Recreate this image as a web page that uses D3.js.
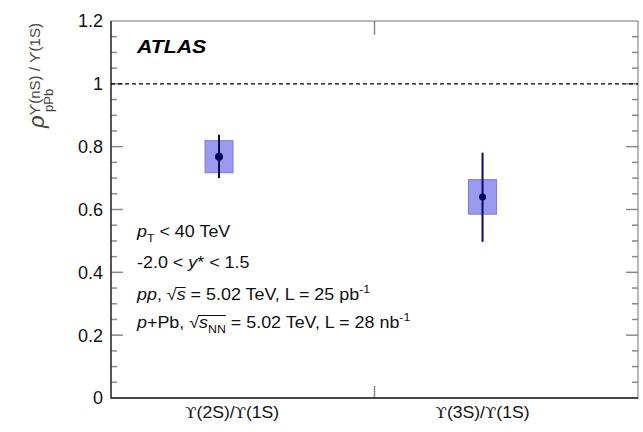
<!DOCTYPE html>
<html>
<head>
<meta charset="utf-8">
<script src="https://cdn.jsdelivr.net/npm/d3@7"></script>
<style>
  body { margin: 0; background: #fff; }
  svg { font-family: "Liberation Sans", Arial, sans-serif; }
</style>
</head>
<body>
<div id="chart"></div>
<script>
// Double ratio values
var categories = ['2S', '3S'];
var pointX = [0.41, 1.41];      // position inside the [0,2] category range
var labelX = [0.46, 1.41];
var ratio = [0.768, 0.640];
var statUp = [0.070, 0.141];
var statDown = [0.068, 0.143];
var systErr = [0.051, 0.055];
var yTicks = [0, 0.2, 0.4, 0.6, 0.8, 1, 1.2];
var yTickLabels = ['0', '0.2', '0.4', '0.6', '0.8', '1', '1.2'];
var infoLines = [
  [['p', 'i'], ['T', 'sub'], [' < 40 TeV', '']],
  [['-2.0 < ', ''], ['y', 'i'], ['* < 1.5', '']],
  [['pp', 'i'], [', \u221A', ''], ['s', 'root'], [' = 5.02 TeV, L = 25 pb', ''], ['-1', 'sup']],
  [['p', 'i'], ['+Pb, \u221A', ''], ['s', 'root'], ['NN', 'rootsub'], [' = 5.02 TeV, L = 28 nb', ''], ['-1', 'sup']]
];

var width = 643, height = 432;
var margin = {left: 111, right: 5, top: 21, bottom: 34};

var svg = d3.select('#chart').append('svg')
    .attr('width', width)
    .attr('height', height);

var x = d3.scaleLinear().domain([0, 2])
    .range([margin.left, width - margin.right]);
var y = d3.scaleLinear().domain([0, 1.2])
    .range([height - margin.bottom, margin.top]);

var x0 = x.range()[0], x1 = x.range()[1];
var y0 = y.range()[0], y1 = y.range()[1];

// minor + major ticks on both sides, drawn inward
var minor = d3.range(0, 1.2001, 0.05);
var tickG = svg.append('g').attr('stroke', '#8a8a8a').attr('stroke-width', 1.5);
minor.forEach(function(v) {
  var major = yTicks.some(function(t) { return Math.abs(t - v) < 1e-6; });
  var len = major ? 12 : 6;
  if (v === 0 || Math.abs(v - 1.2) < 1e-6) return;
  tickG.append('line').attr('x1', x0).attr('x2', x0 + len)
      .attr('y1', y(v)).attr('y2', y(v));
  tickG.append('line').attr('x1', x1 - len).attr('x2', x1)
      .attr('y1', y(v)).attr('y2', y(v));
});
// category divider ticks top and bottom
tickG.append('line').attr('x1', x(1)).attr('x2', x(1)).attr('y1', y1).attr('y2', y1 + 14);
tickG.append('line').attr('x1', x(1)).attr('x2', x(1)).attr('y1', y0).attr('y2', y0 - 12);

// frame
svg.append('rect')
    .attr('x', x0).attr('y', y1)
    .attr('width', x1 - x0).attr('height', y0 - y1)
    .attr('fill', 'none').attr('stroke', '#777').attr('stroke-width', 1);
svg.append('path')
    .attr('d', 'M' + x0 + ',' + y1 + 'V' + y0 + 'H' + x1)
    .attr('fill', 'none').attr('stroke', '#222').attr('stroke-width', 1.3);

// y tick labels
svg.selectAll('.ylab').data(yTicks)
  .enter().append('text')
    .attr('class', 'ylab')
    .attr('x', x0 - 8)
    .attr('y', function(d) { return y(d); })
    .attr('dy', '0.36em')
    .attr('text-anchor', 'end')
    .attr('font-size', 18)
    .attr('fill', '#111')
    .text(function(d, i) { return yTickLabels[i]; });

// unity line
svg.append('line')
    .attr('x1', x0).attr('x2', x1)
    .attr('y1', y(1)).attr('y2', y(1))
    .attr('stroke', '#000').attr('stroke-width', 1.3)
    .attr('stroke-dasharray', '4,3');

// systematic boxes
var boxHalf = 14;
svg.selectAll('.syst').data(categories)
  .enter().append('rect')
    .attr('class', 'syst')
    .attr('x', function(d, i) { return x(pointX[i]) - boxHalf; })
    .attr('y', function(d, i) { return y(ratio[i] + systErr[i]); })
    .attr('width', boxHalf * 2)
    .attr('height', function(d, i) { return y(ratio[i] - systErr[i]) - y(ratio[i] + systErr[i]); })
    .attr('fill', '#9a9af0')
    .attr('stroke', '#7a7ae0')
    .attr('stroke-width', 1);

// stat error bars
svg.selectAll('.stat').data(categories)
  .enter().append('line')
    .attr('class', 'stat')
    .attr('x1', function(d, i) { return x(pointX[i]); })
    .attr('x2', function(d, i) { return x(pointX[i]); })
    .attr('y1', function(d, i) { return y(ratio[i] + statUp[i]); })
    .attr('y2', function(d, i) { return y(ratio[i] - statDown[i]); })
    .attr('stroke', function(d, i) { return i === 0 ? '#0a0a3a' : '#0a0a6e'; })
    .attr('stroke-width', 2);

svg.selectAll('.pt').data(categories)
  .enter().append('circle')
    .attr('class', 'pt')
    .attr('cx', function(d, i) { return x(pointX[i]); })
    .attr('cy', function(d, i) { return y(ratio[i]); })
    .attr('r', function(d, i) { return i === 0 ? 4 : 3.5; })
    .attr('fill', '#06065a');

// x category labels (slightly wide, like the original render)
var xl = svg.selectAll('.xlab').data(categories)
  .enter().append('text')
    .attr('class', 'xlab')
    .attr('transform', function(d, i) {
      return 'translate(' + x(labelX[i]) + ',418) scale(1.1,1)';
    })
    .attr('text-anchor', 'middle')
    .attr('font-size', 16)
    .attr('fill', '#111');
xl.each(function(d) {
  var t = d3.select(this);
  t.append('tspan').attr('font-family', 'DejaVu Serif, serif').attr('font-size', 15).text('\u03D2');
  t.append('tspan').text('(' + d + ')/');
  t.append('tspan').attr('font-family', 'DejaVu Serif, serif').attr('font-size', 15).text('\u03D2');
  t.append('tspan').text('(1S)');
});

// ATLAS label
svg.append('text')
    .attr('transform', 'translate(137,53) scale(1.12,1)')
    .attr('font-size', 19)
    .attr('font-weight', 'bold')
    .attr('font-style', 'italic')
    .text('ATLAS');

// info text block
var infoY = [237, 268, 300, 328];
infoLines.forEach(function(parts, li) {
  var g = svg.append('g')
      .attr('transform', 'translate(137,' + infoY[li] + ') scale(1.12,1)');
  var t = g.append('text')
      .attr('font-size', 16)
      .attr('fill', '#111');
  var shift = 0, idx = 0, rootStart = -1, rootEnd = -1;
  parts.forEach(function(p) {
    var s = t.append('tspan').text(p[0]);
    var want = 0;
    if (p[1] === 'i' || p[1] === 'root') s.attr('font-style', 'italic');
    if (p[1] === 'sub' || p[1] === 'rootsub') { s.attr('font-size', 11); want = 5; }
    if (p[1] === 'sup') { s.attr('font-size', 11); want = -7; }
    if (want !== shift) { s.attr('dy', want - shift); shift = want; }
    if (p[1] === 'root' || p[1] === 'rootsub') {
      if (rootStart < 0) rootStart = idx;
      rootEnd = idx + p[0].length - 1;
    }
    idx += p[0].length;
  });
  // bar of the square root over s (and its subscript)
  if (rootStart >= 0) {
    var node = t.node();
    var a = node.getExtentOfChar(rootStart);
    var b = node.getExtentOfChar(rootEnd);
    var rad = node.getExtentOfChar(rootStart - 1);
    g.append('line')
        .attr('x1', rad.x + rad.width - 1)
        .attr('x2', b.x + b.width)
        .attr('y1', -12.5).attr('y2', -12.5)
        .attr('stroke', '#111').attr('stroke-width', 1);
  }
});

// y axis title, rotated
var yt = svg.append('text')
    .attr('transform', 'translate(44,128) rotate(-90)')
    .attr('fill', '#444');
yt.append('tspan').attr('font-size', 22).attr('font-style', 'italic').text('\u03C1');
yt.append('tspan').attr('font-size', 15).attr('dy', -4)
    .text('\u03D2(nS) / \u03D2(1S)');
yt.append('tspan').attr('font-size', 13)
    .attr('x', 16).attr('dy', 13).text('pPb');
</script>
</body>
</html>
